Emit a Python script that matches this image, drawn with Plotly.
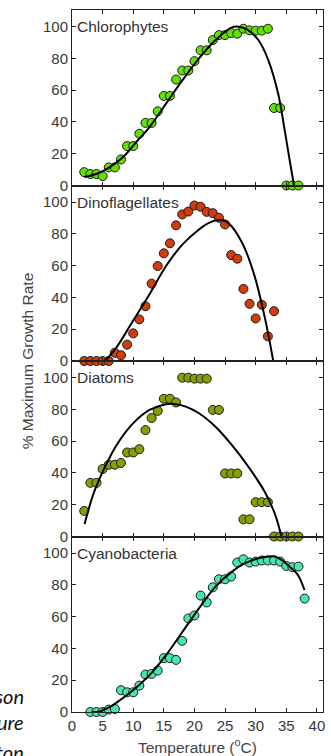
import plotly.graph_objects as go
from plotly.subplots import make_subplots

# ---------------- data ----------------
chloro_T = list(range(2, 38))
chloro_v = [8.4, 7.2, 7.2, 5.9, 11.4, 11.4, 16.4, 24.8, 24.8, 32.6, 39.4, 39.4, 46.7, 56.4, 56.4,
            66.7, 72.4, 72.4, 78.3, 85.1, 85.1, 91.6, 94.7, 94.7, 96.0, 95.6, 98.7, 97.7, 97.5,
            97.5, 98.7, 48.8, 48.8, 0, 0, 0]
chloro_fit_T = [2.0, 4.04, 6.2, 8.35, 10.5, 12.66, 15.36, 18.05, 20.74, 23.44, 26.13, 27.2, 28.56,
                30.44, 32.06, 33.67, 34.75, 35.56, 36.26]
chloro_fit_v = [5.3, 7.4, 11.6, 17.9, 27.4, 36.8, 51.6, 66.3, 80.0, 91.6, 99.6, 100.0, 98.3,
                91.6, 79.0, 57.9, 34.7, 15.8, 0]

dino_T = list(range(2, 34))
dino_v = [0, 0, 0, 0, 0, 5.2, 3.6, 10.3, 17.4, 26.2, 34.5, 48.7, 59.8, 67.8, 74.1, 85.4, 92.3,
          94.1, 97.9, 97.1, 93.9, 93.1, 90.2, 86.0, 66.7, 64.4, 45.4, 36.0, 26.8, 35.4, 15.5, 31.4]
dino_fit_T = [5.39, 7.27, 9.97, 12.66, 15.36, 18.05, 20.74, 22.36, 23.98, 25.05, 26.13, 27.2,
              28.29, 29.9, 31.25, 32.06, 32.87]
dino_fit_v = [0, 8.6, 25.3, 42.0, 59.8, 73.4, 82.8, 87.0, 88.7, 88.1, 84.5, 78.5,
              70.3, 52.5, 31.6, 16.9, 0]

diatom_T = list(range(2, 38))
diatom_v = [16.1, 33.8, 33.8, 42.5, 45.2, 45.2, 46.3, 52.9, 52.9, 55.0, 67.0, 74.6, 79.1, 86.7,
            86.7, 84.4, 100.0, 100.0, 99.4, 99.4, 99.4, 79.7, 79.7, 39.7, 39.7, 39.7, 10.8, 10.8,
            21.6, 21.6, 21.6, 0, 0, 0, 0, 0]
diatom_fit_T = [2.05, 3.5, 5.12, 7.27, 9.97, 12.66, 15.36, 16.97, 18.59, 20.74, 23.44, 26.13,
                28.83, 31.52, 33.14, 34.21]
diatom_fit_v = [7.8, 26.8, 41.6, 57.5, 71.2, 79.7, 83.3, 83.3, 81.8, 77.6, 69.1, 57.5,
                43.8, 27.9, 14.2, 0]

cyano_T = list(range(3, 39))
cyano_v = [0, 0, 0, 1.5, 1.9, 13.7, 12.4, 12.4, 16.6, 23.6, 24.0, 26.1, 33.9, 33.9, 32.8, 44.8,
           58.9, 60.8, 73.3, 69.0, 78.5, 83.6, 83.6, 85.3, 94.1, 96.2, 94.1, 94.7, 95.4, 95.4,
           95.4, 94.7, 92.0, 91.2, 91.6, 71.4]
cyano_fit_T = [3.23, 4.58, 6.2, 7.81, 9.97, 12.66, 15.36, 18.05, 20.74, 23.44, 26.13, 28.29,
               30.44, 32.06, 33.14, 34.21, 35.83, 36.9, 37.98]
cyano_fit_v = [0, 0.4, 3.2, 7.4, 13.7, 23.2, 35.8, 50.5, 65.3, 78.9, 88.4, 93.7,
               96.8, 97.9, 97.9, 95.8, 90.5, 86.3, 76.8]

groups = ["Chlorophytes", "Dinoflagellates", "Diatoms", "Cyanobacteria"]
colors = ["#62e000", "#d23c0c", "#86a004", "#46e6ac"]
x_ticks = [0, 5, 10, 15, 20, 25, 30, 35, 40]
y_ticks = [0, 20, 40, 60, 80, 100]
side_text = ["son", "ure", "ton"]

series = [
    (chloro_T, chloro_v, chloro_fit_T, chloro_fit_v),
    (dino_T, dino_v, dino_fit_T, dino_fit_v),
    (diatom_T, diatom_v, diatom_fit_T, diatom_fit_v),
    (cyano_T, cyano_v, cyano_fit_T, cyano_fit_v),
]

# ---------------- figure ----------------
fig = make_subplots(rows=4, cols=1, shared_xaxes=True, vertical_spacing=0)

for i, (T, v, fT, fv) in enumerate(series):
    r = i + 1
    fig.add_trace(go.Scatter(x=T, y=v, mode="markers", cliponaxis=False, showlegend=False,
                             marker=dict(size=9, color=colors[i],
                                         line=dict(color="#1a1a1a", width=1))),
                  row=r, col=1)
    fig.add_trace(go.Scatter(x=fT, y=fv, mode="lines", line=dict(color="black", width=2, shape="spline"),
                             cliponaxis=False, showlegend=False),
                  row=r, col=1)
    fig.add_annotation(text=groups[i], xref=f"x{'' if r == 1 else r} domain",
                       yref=f"y{'' if r == 1 else r}", x=0.012, y=100, xanchor="left",
                       yanchor="middle", showarrow=False,
                       font=dict(size=15.5, color="#333333", family="Liberation Sans, Arial"))

axis_common = dict(showline=True, linecolor="#222222", linewidth=1, mirror="ticks",
                   ticks="inside", ticklen=4, tickcolor="#222222", showgrid=False,
                   zeroline=False, tickfont=dict(size=15, color="#383838"))

for r in range(1, 5):
    fig.update_xaxes(range=[0, 41], tickvals=x_ticks, row=r, col=1, **axis_common)
    fig.update_yaxes(range=[0, 110.5], tickvals=y_ticks, row=r, col=1, **axis_common)

fig.update_xaxes(showticklabels=True, row=4, col=1)

# axis titles
fig.add_annotation(text="% Maximum Growth Rate", xref="paper", yref="paper", x=-0.178, y=0.5,
                   textangle=-90, showarrow=False, xanchor="center", yanchor="middle",
                   font=dict(size=15.5, color="#444444"))
fig.add_annotation(text="Temperature (<sup>o</sup>C)", xref="paper", yref="paper", x=0.5, y=-0.049,
                   showarrow=False, xanchor="center", yanchor="middle",
                   font=dict(size=15.5, color="#444444"))

# cropped italic text fragments on the left
for txt, yy in zip(side_text, [0.023, -0.014, -0.057]):
    fig.add_annotation(text=f"<i>{txt}</i>", xref="paper", yref="paper", x=-0.182, y=yy,
                       showarrow=False, xanchor="right", yanchor="middle",
                       font=dict(size=20, color="#111111", family="Lato"))

fig.update_layout(width=331, height=756, margin=dict(l=72, r=6, t=10, b=44),
                  paper_bgcolor="white", plot_bgcolor="white",
                  font=dict(family="Liberation Sans, Arial", color="#404040"))

fig.write_html("out.html", config={"displayModeBar": False},
               post_script="document.body.style.margin='0';document.body.style.overflow='hidden';")
